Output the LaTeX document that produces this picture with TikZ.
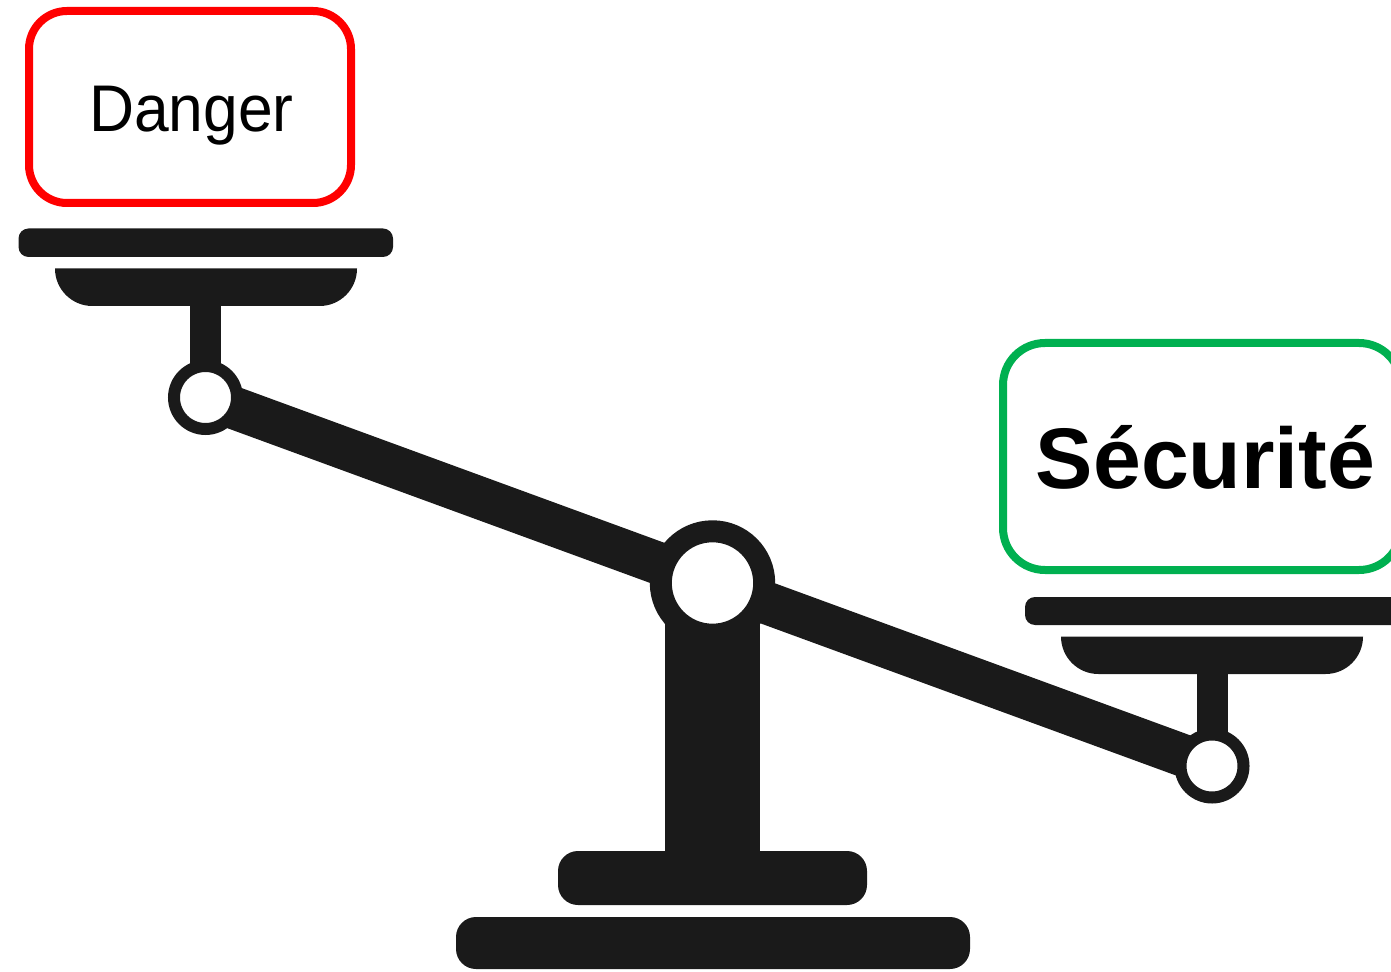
\documentclass[tikz,border=0pt]{standalone}
\usepackage{fontspec}
\setmainfont{Liberation Sans}
\newfontfamily\dangerfont[FakeStretch=0.945]{Liberation Sans}
\definecolor{ink}{HTML}{1A1A1A}
\definecolor{secgreen}{HTML}{00B050}
\tikzset{
  lab/.style={draw, line width=4pt, inner sep=0pt},
  bar/.style={fill=ink, rounded corners=#1},
  bowl/.style={fill=ink},
  hub/.style={circle, draw=ink, fill=white, inner sep=0pt},
  word/.style={anchor=base, inner sep=0pt}
}
\begin{document}
\begin{tikzpicture}[x=0.5pt, y=-0.5pt,
		smallhub/.style={hub, line width=6pt, minimum size=31.5pt},
		bighub/.style={hub, line width=11pt, minimum size=51.7pt}]
		\useasboundingbox (0,0) rectangle (1391,972);
		\clip (0,0) rectangle (1391,972);
		% left pan
		\fill[bar=5pt] (18.5,228.5) rectangle (393,257);
		\fill[bowl] (55,268.5) [rounded corners=18.7pt] -- (55,306) -- (357,306) [sharp corners] -- (357,268.5) -- cycle;
		\fill[ink] (190,300) rectangle (221,385);
		% right pan
		\fill[bar=5pt] (1025,597) rectangle (1420,625);
		\fill[bowl] (1061,636.5) [rounded corners=18.7pt] -- (1061,674) -- (1363,674) [sharp corners] -- (1363,636.5) -- cycle;
		\fill[ink] (1197,668) rectangle (1228,750);
		% stand
		\fill[ink] (665,600) rectangle (760,860);
		\fill[bar=10pt] (558,851) rectangle (867,905);
		\fill[bar=10pt] (456,917) rectangle (970,969);
		% beam
		\coordinate (beamL) at (205.5,397.5);
		\coordinate (beamR) at (1212,766);
		\draw[ink, line width=21.3pt] (beamL) -- (beamR);
		\node[smallhub] (hubL) at (beamL) {};
		\node[smallhub] (hubR) at (beamR) {};
		\node[bighub] (hubC) at (712.5,583) {};
		% labels
		\node[lab, draw=red, rounded corners=19pt, minimum width=161pt, minimum height=96pt] (danger) at (190,107) {};
		\node[word, font=\fontsize{33}{33}\dangerfont] (dangerT) at (191.5,132) {Danger};
		\node[lab, draw=secgreen, rounded corners=21pt, minimum width=199pt, minimum height=113.5pt] (secu) at (1202,456.5) {};
		\node[word, font=\fontsize{43}{43}\selectfont\bfseries] (secuT) at (1205.5,488) {Sécurité};
	\end{tikzpicture}
\end{document}
